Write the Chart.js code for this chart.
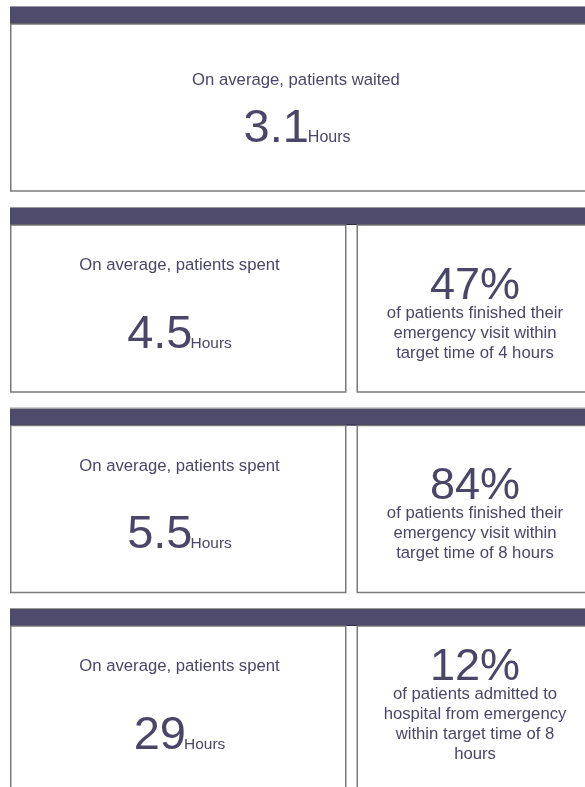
<!DOCTYPE html>
<html>
<head>
<meta charset="utf-8">
<script src="https://cdn.jsdelivr.net/npm/chart.js@4"></script>
<style>
html,body{margin:0;padding:0;background:#fff;}
canvas{display:block;}
</style>
</head>
<body>
<canvas id="c" width="585" height="787"></canvas>
<script>
// ---- data ----
const waitLabel = "On average, patients waited";
const waitHours = "3.1";
const spentLabels = ["On average, patients spent", "On average, patients spent", "On average, patients spent"];
const spentHours = ["4.5", "5.5", "29"];
const unitLabel = "Hours";
const pctValues = ["47%", "84%", "12%"];
const pctDescriptions = [
  ["of patients finished their", "emergency visit within", "target time of 4 hours"],
  ["of patients finished their", "emergency visit within", "target time of 8 hours"],
  ["of patients admitted to", "hospital from emergency", "within target time of 8", "hours"]
];

const TEXT = "#4a4668";
const HEAD = "#4f4b6d";
const FONT = "'Liberation Sans', Arial, sans-serif";

function header(ctx, y) {
  ctx.fillStyle = HEAD;
  ctx.fillRect(10, y, 600, 17);
  ctx.strokeStyle = "#2c2a3e";
  ctx.lineWidth = 1;
  ctx.beginPath();
  ctx.moveTo(10, y + 16.5); ctx.lineTo(600, y + 16.5);
  ctx.stroke();
  ctx.strokeStyle = "#9a9a9a";
  ctx.beginPath();
  ctx.moveTo(10, y - 0.5); ctx.lineTo(600, y - 0.5);
  ctx.stroke();
}
function box(ctx, x0, y0, x1, y1) {
  ctx.strokeStyle = "#7a7a7a";
  ctx.lineWidth = 1.5;
  ctx.strokeRect(x0 + 0.75, y0, x1 - x0 - 1.5, y1 - y0);
}
function bigWithUnit(ctx, cx, baseline, big, bigSize, unitSize, gap) {
  ctx.font = bigSize + "px " + FONT;
  const wb = ctx.measureText(big).width;
  ctx.font = unitSize + "px " + FONT;
  const wu = ctx.measureText(unitLabel).width;
  const start = cx - (wb + gap + wu) / 2;
  ctx.textAlign = "left";
  ctx.fillStyle = TEXT;
  ctx.font = bigSize + "px " + FONT;
  ctx.fillText(big, start, baseline);
  ctx.font = unitSize + "px " + FONT;
  ctx.fillText(unitLabel, start + wb + gap, baseline);
}

const panelPlugin = {
  id: "panels",
  beforeDraw(chart) {
    const ctx = chart.ctx;
    ctx.save();
    ctx.fillStyle = "#fff";
    ctx.fillRect(0, 0, chart.width, chart.height);
    ctx.textBaseline = "alphabetic";

    // Section 1
    header(ctx, 7);
    box(ctx, 10, 24, 600, 191);
    ctx.fillStyle = TEXT;
    ctx.textAlign = "center";
    ctx.font = "16.7px " + FONT;
    ctx.fillText(waitLabel, 296, 85);
    bigWithUnit(ctx, 297, 142, waitHours, 47, 16, -1);

    // Sections 2-4
    const tops = [208, 408.5, 609];
    for (let i = 0; i < spentHours.length; i++) {
      const y0 = tops[i];
      header(ctx, y0);
      box(ctx, 10, y0 + 17, 346.5, y0 + 184);
      box(ctx, 356.5, y0 + 17, 600, y0 + 184);
      ctx.fillStyle = TEXT;
      ctx.textAlign = "center";
      ctx.font = "16.7px " + FONT;
      ctx.fillText(spentLabels[i], 179.5, y0 + 62);
      bigWithUnit(ctx, 179.5, y0 + 139.5, spentHours[i], 47, 15.5, -2);

      const lines = pctDescriptions[i];
      const bigBase = y0 + 90.5 - (lines.length - 3) * 20;
      ctx.textAlign = "center";
      ctx.font = "45px " + FONT;
      ctx.fillText(pctValues[i], 475, bigBase);
      ctx.font = "16.7px " + FONT;
      lines.forEach((t, k) => ctx.fillText(t, 475, bigBase + 19 + k * 20));
    }
    ctx.restore();
  }
};

new Chart(document.getElementById("c"), {
  type: "bar",
  data: { labels: [], datasets: [] },
  options: {
    responsive: false,
    animation: false,
    events: [],
    layout: { padding: 0 },
    plugins: { legend: { display: false }, tooltip: { enabled: false }, title: { display: false } },
    scales: { x: { display: false }, y: { display: false } }
  },
  plugins: [panelPlugin]
});
</script>
</body>
</html>
